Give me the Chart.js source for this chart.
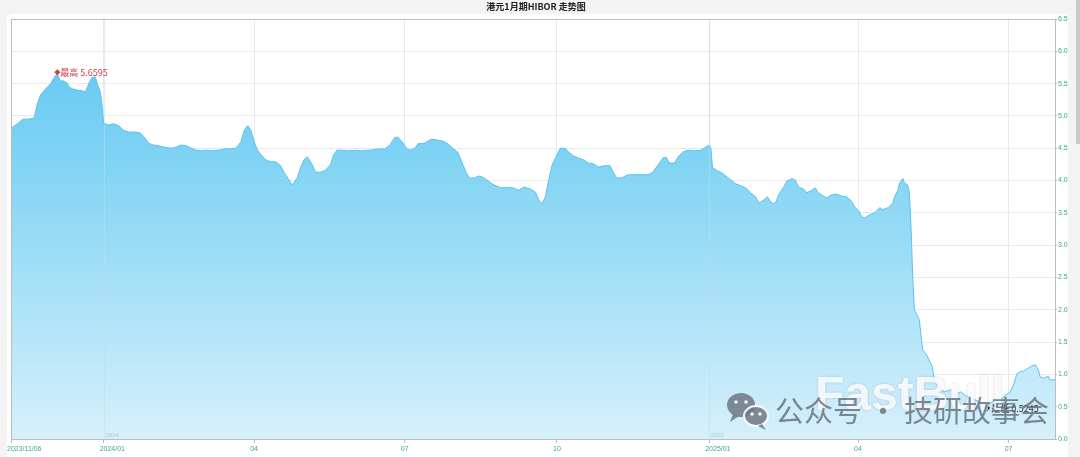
<!DOCTYPE html>
<html><head><meta charset="utf-8">
<script src="https://cdn.jsdelivr.net/npm/chart.js@4.4.1/dist/chart.umd.min.js"></script>
<style>html,body{margin:0;padding:0;background:#f3f3f3;overflow:hidden}canvas{display:block}</style>
</head><body>
<canvas id="c" width="1080" height="457"></canvas>
<script>
// ---- data ----
const titleText = '港元1月期HIBOR 走势图';
const startDate = '2023/11/06';
// days since 2023/11/06
const dayOffsets = [0,4,7,11,14,16,18,21,24,26,28,30,31,34,35,37,40,43,45,47,49,51,52,54,55,56,59,62,65,68,71,75,78,81,83,86,89,92,97,100,103,106,109,112,115,118,122,125,129,133,136,139,141,143,145,147,149,151,154,157,160,163,165,168,170,173,175,177,179,182,184,187,190,193,195,197,200,204,208,212,217,222,226,229,232,234,237,239,241,244,246,250,254,257,261,264,267,270,272,275,277,280,283,286,289,292,296,299,303,307,310,314,317,319,321,323,325,327,330,332,335,337,340,343,346,349,352,355,359,362,364,366,369,373,376,380,385,388,391,394,396,398,401,403,406,409,413,417,420,422,423,424,427,429,432,435,438,441,444,447,450,452,455,457,460,462,464,467,469,472,474,476,479,481,484,486,488,491,493,496,499,502,505,508,510,513,514,516,519,522,525,527,530,533,534,536,537,539,540,542,543,544,545,546,548,549,551,553,554,557,558,561,564,568,571,574,577,580,583,586,589,590,593,595,598,601,604,606,608,610,612,615,617,619,621,622,624,627,628,631];
const hibor = [4.81,4.88,4.95,4.95,4.97,5.20,5.33,5.42,5.50,5.59,5.6595,5.53,5.55,5.51,5.45,5.42,5.40,5.39,5.37,5.50,5.60,5.60,5.51,5.37,5.17,4.89,4.86,4.88,4.85,4.78,4.75,4.75,4.74,4.66,4.58,4.55,4.54,4.52,4.50,4.52,4.55,4.54,4.50,4.47,4.46,4.47,4.46,4.47,4.49,4.49,4.50,4.60,4.78,4.85,4.78,4.60,4.47,4.40,4.32,4.29,4.29,4.23,4.13,4.01,3.93,4.04,4.20,4.32,4.37,4.25,4.13,4.13,4.16,4.24,4.40,4.47,4.47,4.46,4.47,4.46,4.47,4.49,4.49,4.55,4.67,4.67,4.58,4.50,4.47,4.50,4.57,4.58,4.64,4.63,4.61,4.57,4.50,4.44,4.32,4.13,4.04,4.04,4.07,4.04,3.98,3.93,3.89,3.89,3.89,3.85,3.90,3.87,3.82,3.70,3.64,3.75,4.01,4.24,4.40,4.50,4.50,4.44,4.38,4.35,4.32,4.27,4.26,4.21,4.23,4.23,4.13,4.04,4.04,4.09,4.09,4.09,4.09,4.13,4.24,4.35,4.36,4.27,4.27,4.36,4.44,4.47,4.46,4.47,4.52,4.55,4.50,4.20,4.15,4.13,4.07,4.01,3.95,3.92,3.89,3.81,3.75,3.65,3.70,3.75,3.65,3.65,3.78,3.90,3.99,4.03,4.01,3.90,3.87,3.81,3.85,3.89,3.81,3.76,3.73,3.78,3.79,3.76,3.75,3.68,3.59,3.51,3.44,3.42,3.47,3.50,3.58,3.55,3.58,3.65,3.75,3.85,3.96,4.03,3.96,3.93,3.81,3.28,2.51,2.00,1.90,1.84,1.38,1.32,1.27,1.11,0.91,0.79,0.73,0.76,0.68,0.73,0.67,0.64,0.60,0.57,0.54,0.5245,0.57,0.63,0.60,0.68,0.73,0.84,1.01,1.04,1.05,1.10,1.13,1.15,1.07,0.96,0.94,0.97,0.91,0.92];
const xMaxDay = 631;
const tickDays = [0,56,147,238,330,422,512,603];
const tickLabels = ['2023/11/06','2024/01','04','07','10','2025/01','04','07'];
const yearDays = [56,422];
const yearLabels = ['2024','2025'];
const yMin = 0, yMax = 6.5, yStep = 0.5;
const maxLabel = '最高';
const minLabel = '最低';
const wmBrand = 'FastBull';
const wmText = '公众号 · 技研故事会';

const points = dayOffsets.map((d,i)=>({x:d,y:hibor[i]}));
const teal = '#3aa88c';

function diamond(c,x,y,r,color){
  c.beginPath(); c.moveTo(x,y-r); c.lineTo(x+r,y); c.lineTo(x,y+r); c.lineTo(x-r,y); c.closePath();
  c.fillStyle=color; c.fill();
}

const decor = {
  id:'decor',
  beforeDraw(chart){
    const c = chart.ctx; c.save();
    c.fillStyle='#f3f3f3'; c.fillRect(0,0,1080,457);
    c.fillStyle='#ffffff';
    c.beginPath(); c.roundRect(7,14,1061,470,5); c.fill();
    c.fillStyle='#c8c8c8'; c.fillRect(1076,0,4,144);
    c.font='bold 9px "Noto Sans CJK SC", sans-serif';
    c.fillStyle='#222'; c.textAlign='center'; c.textBaseline='middle';
    c.fillText(titleText,536,7);
    c.restore();
  },
  afterDatasetsDraw(chart){
    const c = chart.ctx, a = chart.chartArea;
    const xs = chart.scales.x, ys = chart.scales.y;
    c.save();
    // year separators
    c.strokeStyle='rgba(200,218,228,0.5)'; c.lineWidth=1;
    c.font='6px "Liberation Sans", Arial, sans-serif'; c.fillStyle='rgba(160,198,215,0.8)';
    c.textAlign='left'; c.textBaseline='bottom';
    yearDays.forEach((d,i)=>{
      const px = Math.round(xs.getPixelForValue(d))+0.5;
      c.beginPath(); c.moveTo(px,a.top); c.lineTo(px,a.bottom); c.stroke();
      c.fillText(yearLabels[i], px+1, a.bottom-1);
    });
    // plot border
    c.strokeStyle='#bdbdbd'; c.lineWidth=1;
    c.strokeRect(Math.round(a.left)+0.5, Math.round(a.top)+0.5, Math.round(a.right-a.left), Math.round(a.bottom-a.top));
    // max / min markers
    let iMax=0,iMin=0;
    hibor.forEach((v,i)=>{ if(v>hibor[iMax]) iMax=i; if(v<hibor[iMin]) iMin=i; });
    c.font='9px "Noto Sans CJK SC", sans-serif'; c.textBaseline='middle'; c.textAlign='left';
    let px = xs.getPixelForValue(dayOffsets[iMax]), py = ys.getPixelForValue(hibor[iMax]);
    diamond(c,px,py-1,3,'#d23c46');
    c.fillStyle='#d23c46'; c.fillText(maxLabel+' '+hibor[iMax].toFixed(4), px+3, py-1);
    px = xs.getPixelForValue(dayOffsets[iMin]); py = ys.getPixelForValue(hibor[iMin]);
    diamond(c,px,py+3,3,'#333');
    c.fillStyle='#333'; c.fillText(minLabel+' '+hibor[iMin].toFixed(4), px+4, py+3);
    c.restore();
  },
  afterDraw(chart){
    const c = chart.ctx; c.save();
    // watermark brand
    c.font='bold 48px "Liberation Sans", Arial, sans-serif';
    c.shadowColor='rgba(0,0,0,0.18)'; c.shadowBlur=3;
    c.fillStyle='rgba(255,255,255,0.85)'; c.textAlign='left'; c.textBaseline='alphabetic';
    c.fillText(wmBrand, 815, 410);
    c.shadowColor='rgba(0,0,0,0)'; c.shadowBlur=0;
    // wechat icon
    c.fillStyle='rgba(110,120,130,0.85)';
    c.beginPath(); c.ellipse(741,405,14,12,0,0,Math.PI*2); c.fill();
    c.beginPath(); c.moveTo(733,414); c.lineTo(730,422); c.lineTo(739,416); c.fill();
    c.strokeStyle='rgba(255,255,255,0.9)'; c.lineWidth=2;
    c.beginPath(); c.ellipse(756,416,12,10,0,0,Math.PI*2); c.fill(); c.stroke();
    c.beginPath(); c.moveTo(762,424); c.lineTo(766,430); c.lineTo(758,426); c.fill();
    c.fillStyle='rgba(255,255,255,0.9)';
    [[736,402],[746,402],[752,414],[760,414]].forEach(p=>{c.beginPath();c.arc(p[0],p[1],1.8,0,Math.PI*2);c.fill();});
    // watermark text
    c.font='29px "Noto Sans CJK SC", sans-serif';
    c.fillStyle='rgba(95,105,115,0.78)'; c.textBaseline='middle';
    c.fillText(wmText, 775, 411);
    c.restore();
  }
};

new Chart(document.getElementById('c'), {
  type:'line',
  data:{ datasets:[{
    data: points,
    borderColor:'#5cc3ee', borderWidth:1, pointRadius:0, tension:0,
    fill:'start',
    backgroundColor:(ctx)=>{
      const ch = ctx.chart, a = ch.chartArea;
      if(!a) return 'rgba(110,205,242,0.8)';
      const g = ch.ctx.createLinearGradient(0,a.top,0,a.bottom);
      g.addColorStop(0,'rgb(92,197,241)');
      g.addColorStop(0.35,'rgb(130,212,244)');
      g.addColorStop(1,'rgb(214,240,251)');
      return g;
    }
  }]},
  options:{
    responsive:false, animation:false, devicePixelRatio:1,
    layout:{padding:{left:11,top:19,right:0,bottom:0}},
    plugins:{legend:{display:false},tooltip:{enabled:false},title:{display:false}},
    scales:{
      x:{
        type:'linear', min:0, max:xMaxDay, position:'bottom',
        afterBuildTicks:(s)=>{ s.ticks = tickDays.map(v=>({value:v})); },
        afterFit:(s)=>{ s.height = 18; },
        grid:{color:'#e9e9e9', tickLength:4, tickColor:'#bdbdbd'},
        border:{color:'#bdbdbd'},
        ticks:{
          autoSkip:false, maxRotation:0, align:'start', labelOffset:-4, padding:2,
          color:teal, font:{size:7, family:'"Liberation Sans", Arial, sans-serif'},
          callback:(v)=>{ const i = tickDays.indexOf(v); return i>=0 ? tickLabels[i] : ''; }
        }
      },
      y:{
        position:'right', min:yMin, max:yMax,
        afterFit:(s)=>{ s.width = 25; },
        grid:{color:'#e9e9e9', tickLength:2, tickColor:'#bdbdbd'},
        border:{color:'#bdbdbd'},
        ticks:{
          stepSize:yStep, padding:1, color:teal,
          font:{size:7, family:'"Liberation Sans", Arial, sans-serif'},
          callback:(v)=>Number(v).toFixed(1)
        }
      }
    }
  },
  plugins:[decor]
});
</script>
</body></html>
